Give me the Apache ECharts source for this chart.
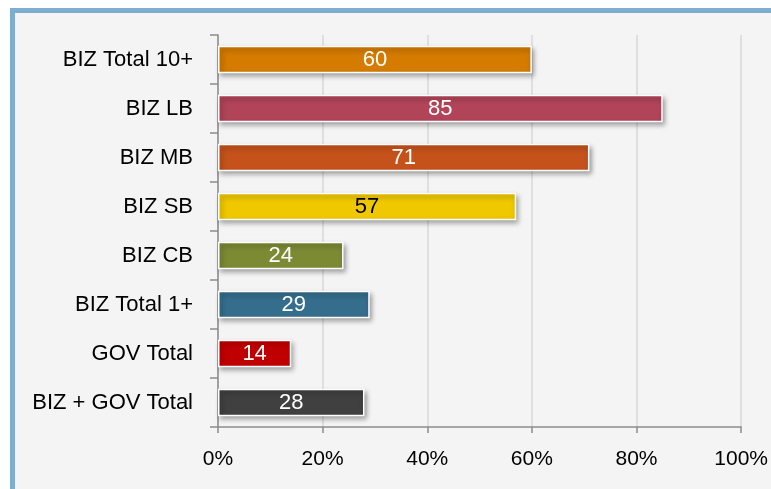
<!DOCTYPE html>
<html>
<head>
<meta charset="utf-8">
<script src="https://cdn.jsdelivr.net/npm/echarts@6/dist/echarts.min.js"></script>
<style>
  html, body { margin: 0; padding: 0; background: #fff; }
  #chart { width: 771px; height: 489px; }
</style>
</head>
<body>
<div id="chart"></div>
<script>
"use strict";
// categories, top to bottom
var categories = ["BIZ Total 10+", "BIZ LB", "BIZ MB", "BIZ SB", "BIZ CB", "BIZ Total 1+", "GOV Total", "BIZ + GOV Total"];
var values = [60, 85, 71, 57, 24, 29, 14, 28];
var xTicks = [0, 20, 40, 60, 80, 100];

var barColors = ["#d47b00", "#b14458", "#c5521b", "#f0c800", "#7c8a34", "#356d8c", "#c00000", "#404040"];
var labelColors = ["#fff", "#fff", "#fff", "#000", "#fff", "#fff", "#fff", "#fff"];

var FONT = "'Liberation Sans Narrow', 'Arial Narrow', 'Liberation Sans', sans-serif";

var chart = echarts.init(document.getElementById("chart"));

var option = {
    animation: false,
    backgroundColor: "#fff",
    graphic: [{
        type: "rect",
        z: -10,
        silent: true,
        shape: { x: 12.5, y: 10.5, width: 900, height: 700 },
        style: { fill: "#f4f4f4", stroke: "#7fadd0", lineWidth: 5 }
    }],
    grid: { left: 218, right: 28, top: 35, bottom: 62, containLabel: false },
    xAxis: {
        type: "value",
        min: xTicks[0],
        max: xTicks[xTicks.length - 1],
        interval: xTicks[1] - xTicks[0],
        axisLine: { show: true, lineStyle: { color: "#8c8c8c", width: 1.5 } },
        axisTick: { show: true, length: 6, lineStyle: { color: "#8c8c8c", width: 1.5 } },
        splitLine: { show: true, lineStyle: { color: "#d9d9d9", width: 1.5 } },
        axisLabel: { formatter: "{value}%", color: "#000", fontFamily: FONT, fontSize: 21, margin: 22 }
    },
    yAxis: {
        type: "category",
        inverse: true,
        data: categories,
        axisLine: { show: true, lineStyle: { color: "#8c8c8c", width: 1.5 } },
        axisTick: { show: true, length: 8, lineStyle: { color: "#8c8c8c", width: 1.5 } },
        axisLabel: { color: "#000", fontFamily: FONT, fontSize: 22, margin: 25 }
    },
    series: [{
        type: "bar",
        barWidth: "56%",
        data: values.map(function (v, i) {
            return {
                value: v,
                itemStyle: { color: barColors[i] },
                label: { color: labelColors[i] }
            };
        }),
        itemStyle: {
            borderColor: "#fff",
            borderWidth: 1.5,
            shadowBlur: 5,
            shadowColor: "rgba(0,0,0,0.4)",
            shadowOffsetX: 2,
            shadowOffsetY: 3
        },
        label: {
            show: true,
            position: "inside",
            fontFamily: FONT,
            fontSize: 22
        }
    }]
};

chart.setOption(option);
</script>
</body>
</html>
